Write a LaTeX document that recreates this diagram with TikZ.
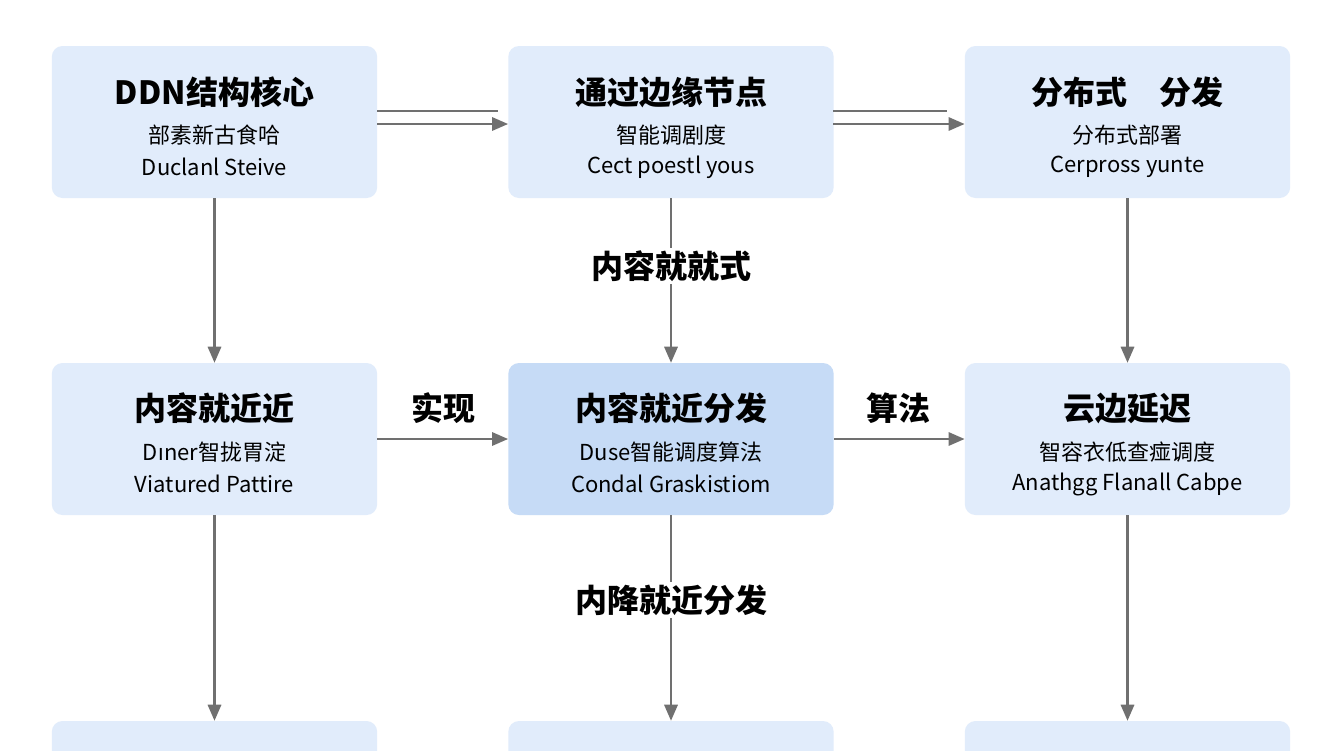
\documentclass[tikz,border=0pt]{standalone}
\usepackage{fontspec}
\setmainfont{Noto Sans CJK SC}
\newfontfamily\djv{DejaVu Sans}
\usetikzlibrary{arrows.meta}
\definecolor{boxf}{HTML}{E1ECFB}
\definecolor{boxm}{HTML}{C6DBF6}
\definecolor{arr}{HTML}{707070}
\begin{document}
\begin{tikzpicture}[x=1pt,y=-1pt,
  box/.style={draw=none,fill=boxf,rounded corners=8pt,minimum width=244pt,minimum height=114pt,inner sep=0pt},
  mbox/.style={box,fill=boxm},
  ar/.style={draw=arr,line width=1.6pt,-{Triangle[length=12pt,width=10pt]}},
  ln/.style={draw=arr,line width=1.6pt},
  lab/.style={font=\fontsize{24}{28}\selectfont\bfseries,text=black},
  t/.style={font=\fontsize{24}{28}\selectfont\bfseries},
  s/.style={font=\fontsize{16.5}{20}\selectfont},
  ]
\useasboundingbox (0,0) rectangle (1008,562.5);
\clip (0,0) rectangle (1008,562.5);
\fill[white] (0,0) rectangle (1008,562.5);
\begin{scope}[x=0.75pt,y=-0.75pt]
\node[box] (a) at (214.5,122) {};
\node[box] (b) at (671,122) {};
\node[box] (c) at (1127.5,122) {};
\node[box] (d) at (214.5,439) {};
\node[mbox] (e) at (671,439) {};
\node[box] (f) at (1127.5,439) {};
\node[box] (g) at (214.5,797) {};
\node[box] (h) at (671,797) {};
\node[box] (i) at (1127.5,797) {};
\node[t] at (214.5,92) {DDN结构核心};
\node[s] at (214.5,135) {部素新古食哈};
\node[s] at (214.5,167) {Duclanl Steive};
\node[t] at (671,92) {通过边缘节点};
\node[s] at (671,135) {智能调剧度};
\node[s] at (671,167) {Cect poestl yous};
\node[t] at (1127.5,92) {分布式\quad 分发};
\node[s] at (1127.5,135) {分布式部署};
\node[s] at (1127.5,167) {Cerpross yunte};
\node[t] at (214.5,408) {内容就近近};
\node[s] at (214.5,452) {D{\djv ı}ner智拢胃淀};
\node[s] at (214.5,484) {Viatured Pattire};
\node[t] at (671,408) {内容就近分发};
\node[s] at (671,452) {Duse智能调度算法};
\node[s] at (671,484) {Condal Graskistiom};
\node[t] at (1127.5,408) {云边延迟};
\node[s] at (1127.5,452) {智容衣低查痖调度};
\node[s] at (1127.5,484) {Anathgg Flanall Cabpe};
\coordinate (ab1) at (377,111);
\coordinate (ab2) at (498,111);
\draw[ln] (ab1) -- (ab2);
\draw[ar] (377,124) -- (b.west|-0,124);
\coordinate (bc1) at (833,111);
\coordinate (bc2) at (947,111);
\draw[ln] (bc1) -- (bc2);
\draw[ar] (833,124) -- (c.west|-0,124);
\draw[ar] (d.east) -- (e.west);
\draw[ar] (e.east) -- (f.west);
\node[lab] at (443,408) {实现};
\node[lab] at (898,408) {算法};
\draw[ar] (a.south) -- (d.north);
\draw[ar] (c.south) -- (f.north);
\draw[ar] (d.south) -- (g.north);
\draw[ar] (f.south) -- (i.north);
\draw[ar] (b.south) -- (e.north);
\draw[ar] (e.south) -- (h.north);
\node[lab,fill=white,inner sep=2pt] at (671,266) {内容就就式};
\node[lab,fill=white,inner sep=2pt] at (671,600) {内降就近分发};
\end{scope}
\end{tikzpicture}
\end{document}
